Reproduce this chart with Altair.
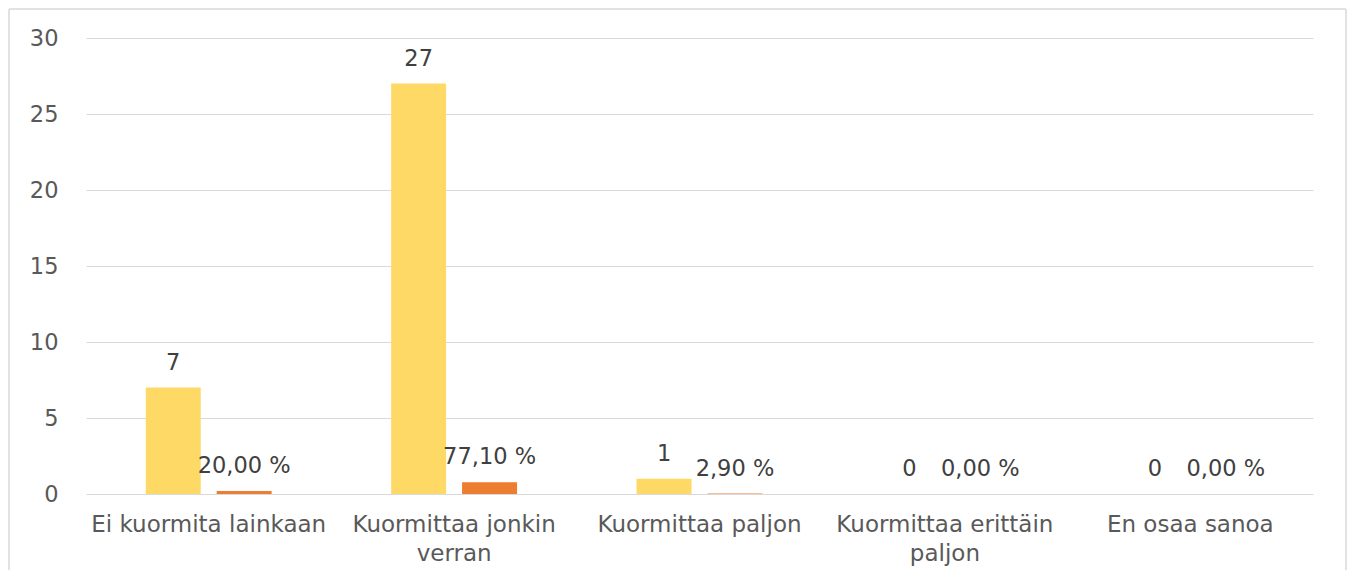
import altair as alt
import pandas as pd

categories = ["Ei kuormita lainkaan", "Kuormittaa jonkin|verran", "Kuormittaa paljon",
              "Kuormittaa erittäin|paljon", "En osaa sanoa"]
counts = [7, 27, 1, 0, 0]
percents = [20.00, 77.10, 2.90, 0.00, 0.00]
series = ["Lukumäärä", "Prosentti"]
colors = ["#FFD966", "#ED7D31"]

rows = []
for c, n, p in zip(categories, counts, percents):
    rows.append({"cat": c, "series": series[0], "value": n, "label": str(n)})
    rows.append({"cat": c, "series": series[1], "value": p / 100.0,
                 "label": f"{p:.2f}".replace(".", ",") + " %"})
df = pd.DataFrame(rows)

font = "DejaVu Sans"
x_enc = alt.X("cat:N", sort=categories,
              scale=alt.Scale(paddingInner=0.487, paddingOuter=0.2435),
              axis=alt.Axis(title=None, labelAngle=0, domain=False, ticks=False,
                            labelPadding=19, labelFontSize=23, labelColor="#595959",
                            labelFont=font, labelLineHeight=29, labelLimit=0,
                            labelExpr="split(datum.label, '|')"))
xo_enc = alt.XOffset("series:N", sort=series,
                     scale=alt.Scale(paddingInner=0.225, paddingOuter=0))
y_enc = alt.Y("value:Q", scale=alt.Scale(domain=[0, 30], nice=False),
              axis=alt.Axis(title=None, values=[0, 5, 10, 15, 20, 25, 30],
                            domain=False, ticks=False, grid=True,
                            gridColor="#D9D9D9", gridWidth=1,
                            labelPadding=28, labelFontSize=22.5, labelColor="#595959",
                            labelFont=font))

base = alt.Chart(df)
bars = base.mark_bar().encode(
    x=x_enc, xOffset=xo_enc, y=y_enc,
    color=alt.Color("series:N", sort=series,
                    scale=alt.Scale(domain=series, range=colors), legend=None),
)
texts = base.mark_text(dy=-25, baseline="middle", fontSize=22.5, font=font,
                       color="#404040").encode(
    x=x_enc, xOffset=xo_enc, y=y_enc, text="label:N")

frame_df = pd.DataFrame({"a": [0]})
fc = "#D9D9D9"
left = alt.Chart(frame_df).mark_rule(color=fc, strokeWidth=1.5).encode(
    x=alt.value(-77), y=alt.value(-29), y2=alt.value(540))
top = alt.Chart(frame_df).mark_rule(color=fc, strokeWidth=1.5).encode(
    x=alt.value(-77), x2=alt.value(1260), y=alt.value(-29))
right = alt.Chart(frame_df).mark_rule(color=fc, strokeWidth=1.5).encode(
    x=alt.value(1260), y=alt.value(-29), y2=alt.value(540))

chart = alt.layer(bars, texts, left, top, right).properties(
    width=1227, height=456,
    autosize=alt.AutoSizeParams(type="none"),
    padding={"left": 78, "top": 30, "right": 34, "bottom": 76},
).configure_view(stroke=None)

chart.save("out.html", embed_options={"renderer": "svg", "actions": False})
